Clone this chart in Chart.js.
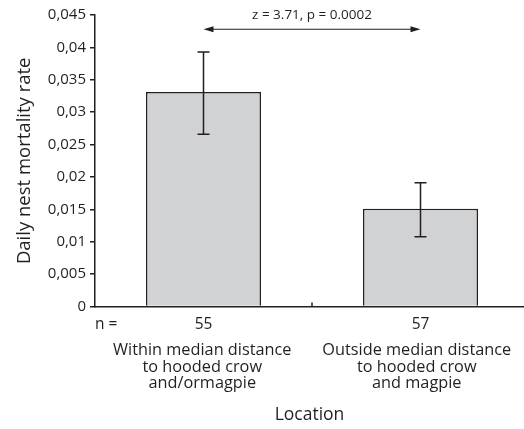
<!DOCTYPE html>
<html>
<head>
<meta charset="utf-8">
<script src="https://cdn.jsdelivr.net/npm/chart.js@4"></script>
<style>
  html, body { margin: 0; padding: 0; background: #fff; }
  #wrap { width: 524px; height: 429px; }
</style>
</head>
<body>
<div id="wrap"><canvas id="chart"></canvas></div>
<script>
// values
const nValues = ['55', '57'];
const locationLines = [
  ['Within median distance', 'to hooded crow', 'and/ormagpie'],
  ['Outside median distance', 'to hooded crow', 'and magpie']
];
const mortality = [0.0331, 0.0151];
const errLow = [0.0266, 0.0108];
const errHigh = [0.0393, 0.0191];
const yMax = 0.045;
const yStep = 0.005;
const statText = 'z = 3.71, p = 0.0002';
const arrowLevel = 0.0428;

const ink = '#231f20';
const fontFam = "'Open Sans', 'Noto Sans', sans-serif";

// let the category axis run a little past the right edge, like the original
const stretchX = {
  id: 'stretchX',
  afterLayout(chart) {
    const x = chart.scales.x;
    x.right = chart.width + 5;
    x.configure();
  }
};

// error bars, comparison arrow, n = label
const overlay = {
  id: 'overlay',
  afterDatasetsDraw(chart) {
    const { ctx, scales: { x, y } } = chart;
    const bars = chart.getDatasetMeta(0).data;
    ctx.save();
    ctx.strokeStyle = ink;
    ctx.fillStyle = ink;
    ctx.lineWidth = 1.5;

    bars.forEach((bar, i) => {
      const top = y.getPixelForValue(errHigh[i]);
      const bot = y.getPixelForValue(errLow[i]);
      ctx.beginPath();
      ctx.moveTo(bar.x, top); ctx.lineTo(bar.x, bot);
      ctx.moveTo(bar.x - 6, top); ctx.lineTo(bar.x + 6, top);
      ctx.moveTo(bar.x - 6, bot); ctx.lineTo(bar.x + 6, bot);
      ctx.stroke();
    });

    // small tick between the two categories
    const bx = (x.getPixelForValue(0) + x.getPixelForValue(1)) / 2;
    ctx.beginPath();
    ctx.moveTo(bx, y.bottom); ctx.lineTo(bx, y.bottom - 4);
    ctx.stroke();

    // double arrow
    const ay = y.getPixelForValue(arrowLevel);
    const x1 = bars[0].x, x2 = bars[1].x;
    ctx.lineWidth = 1.2;
    ctx.beginPath();
    ctx.moveTo(x1 + 6, ay); ctx.lineTo(x2 - 6, ay);
    ctx.stroke();
    ctx.beginPath();
    ctx.moveTo(x1, ay); ctx.lineTo(x1 + 10, ay - 3); ctx.lineTo(x1 + 10, ay + 3); ctx.closePath();
    ctx.moveTo(x2, ay); ctx.lineTo(x2 - 10, ay - 3); ctx.lineTo(x2 - 10, ay + 3); ctx.closePath();
    ctx.fill();

    ctx.font = '13.5px ' + fontFam;
    ctx.textAlign = 'center';
    ctx.textBaseline = 'middle';
    ctx.fillText(statText, (x1 + x2) / 2, y.getPixelForValue(yMax));

    ctx.font = '15.5px ' + fontFam;
    ctx.textAlign = 'left';
    ctx.fillText('n =', 95, y.bottom + 18);
    ctx.restore();
  }
};

new Chart(document.getElementById('chart'), {
  type: 'bar',
  data: {
    labels: nValues,
    datasets: [{
      data: mortality,
      backgroundColor: '#d1d2d4',
      borderColor: ink,
      borderWidth: 1.5,
      barPercentage: 0.53,
      categoryPercentage: 1
    }]
  },
  options: {
    responsive: true,
    maintainAspectRatio: false,
    animation: false,
    layout: { padding: { top: 15, right: 0, bottom: 3, left: 0 } },
    plugins: { legend: { display: false }, tooltip: { enabled: false } },
    scales: {
      x: {
        grid: { display: false, drawTicks: false },
        border: { display: true, color: ink, width: 1.5 },
        ticks: { color: ink, padding: 10, font: { family: fontFam, size: 15.5, lineHeight: 1.0 } }
      },
      x2: {
        type: 'category',
        position: 'bottom',
        labels: locationLines,
        grid: { display: false, drawTicks: false },
        border: { display: false },
        ticks: { color: ink, padding: 0, font: { family: fontFam, size: 16.3, lineHeight: 1.02 } },
        title: {
          display: true, text: 'Location', color: ink,
          font: { family: fontFam, size: 17.5 },
          padding: { top: 13, bottom: 0 }
        }
      },
      y: {
        min: 0, max: yMax,
        afterFit(scale) { scale.width = 95; },
        grid: { drawOnChartArea: false, drawTicks: true, tickLength: 5, color: ink, lineWidth: 1.5 },
        border: { display: true, color: ink, width: 1.5 },
        ticks: {
          stepSize: yStep, color: ink, padding: 4,
          font: { family: fontFam, size: 15 },
          callback: v => String(parseFloat(v.toFixed(3))).replace('.', ',')
        },
        title: {
          display: true, text: 'Daily nest mortality rate', color: ink,
          font: { family: fontFam, size: 18.5 },
          padding: { top: 14, bottom: 0 }
        }
      }
    }
  },
  plugins: [stretchX, overlay]
});
</script>
</body>
</html>
